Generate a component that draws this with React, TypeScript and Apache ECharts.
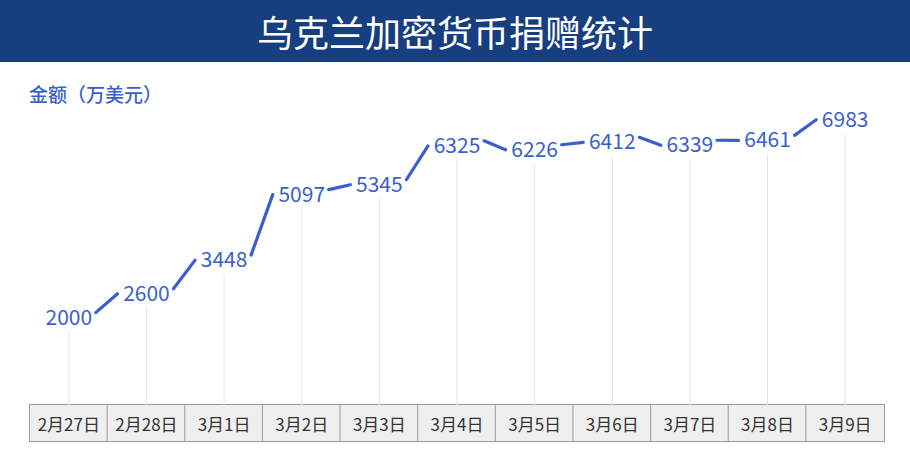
import React, { useEffect, useRef } from "react";
import * as echarts from "echarts";

const dates = ["2月27日", "2月28日", "3月1日", "3月2日", "3月3日", "3月4日", "3月5日", "3月6日", "3月7日", "3月8日", "3月9日"];
const amounts = [2000, 2600, 3448, 5097, 5345, 6325, 6226, 6412, 6339, 6461, 6983];

const TITLE = "乌克兰加密货币捐赠统计";
const UNIT = "金额（万美元）";
const BLUE = "#3a5fcd";
const FONT = "'Noto Sans CJK SC', 'Noto Sans', sans-serif";
const Y_MIN = -250;

export default function App() {
  const ref = useRef<HTMLDivElement>(null);

  useEffect(() => {
    if (!ref.current) return;
    const chart = echarts.init(ref.current, null, { renderer: "svg" });
    const cellW = 854 / dates.length;

    // connectors run from the right edge of one value label to the left edge of the next
    const links = amounts.slice(0, -1).map((v, i) => [i, v, i + 1, amounts[i + 1]]);

    chart.setOption({
      animation: false,
      backgroundColor: "#ffffff",
      textStyle: { fontFamily: FONT },
      graphic: [
        { type: "rect", left: 0, top: 0, shape: { width: 910, height: 62 }, style: { fill: "#173e7e" }, z: 10 },
        {
          type: "text",
          x: 455,
          y: 31,
          style: { text: TITLE, fill: "#ffffff", font: `36px ${FONT}`, textAlign: "center", textVerticalAlign: "middle" },
          z: 11,
        },
        {
          type: "text",
          x: 29,
          y: 93,
          style: { text: UNIT, fill: BLUE, font: `500 19px ${FONT}`, textAlign: "left", textVerticalAlign: "middle" },
          z: 11,
        },
      ],
      grid: { left: 30, right: 26, top: 117, bottom: 69 },
      xAxis: {
        type: "category",
        data: dates,
        boundaryGap: true,
        axisLine: { show: false },
        axisTick: { show: false },
        splitLine: { show: false },
        axisLabel: {
          interval: 0,
          margin: 0,
          color: "#333333",
          fontSize: 17,
          fontFamily: FONT,
          width: cellW,
          height: 36,
          lineHeight: 36,
          align: "center",
          verticalAlign: "top",
          backgroundColor: "#efefef",
          borderColor: "#9a9a9a",
          borderWidth: 1,
        },
      },
      yAxis: {
        type: "value",
        min: Y_MIN,
        max: 7000,
        show: false,
      },
      series: [
        {
          type: "custom",
          data: amounts.map((v, i) => [i, v]),
          z: 1,
          renderItem: (params: any, api: any) => {
            const top = api.coord([api.value(0), api.value(1)]);
            const base = api.coord([api.value(0), Y_MIN]);
            return {
              type: "line",
              shape: { x1: top[0], y1: top[1] + 16, x2: base[0], y2: base[1] },
              style: { stroke: "#e4e4e4", lineWidth: 1 },
            };
          },
        },
        {
          type: "custom",
          data: links,
          z: 2,
          renderItem: (params: any, api: any) => {
            const a = api.coord([api.value(0), api.value(1)]);
            const b = api.coord([api.value(2), api.value(3)]);
            return {
              type: "line",
              shape: { x1: a[0] + 27, y1: a[1] - 3, x2: b[0] - 29, y2: b[1] + 2 },
              style: { stroke: BLUE, lineWidth: 3.2, lineCap: "round" },
            };
          },
        },
        {
          type: "line",
          data: amounts,
          z: 3,
          symbol: "circle",
          symbolSize: 0,
          lineStyle: { width: 0, opacity: 0 },
          itemStyle: { color: BLUE },
          label: {
            show: true,
            position: "inside",
            color: BLUE,
            fontSize: 21,
            fontFamily: FONT,
          },
        },
      ],
    });

    return () => chart.dispose();
  }, []);

  return <div ref={ref} style={{ position: "fixed", left: 0, top: 0, width: 910, height: 474 }} />;
}
